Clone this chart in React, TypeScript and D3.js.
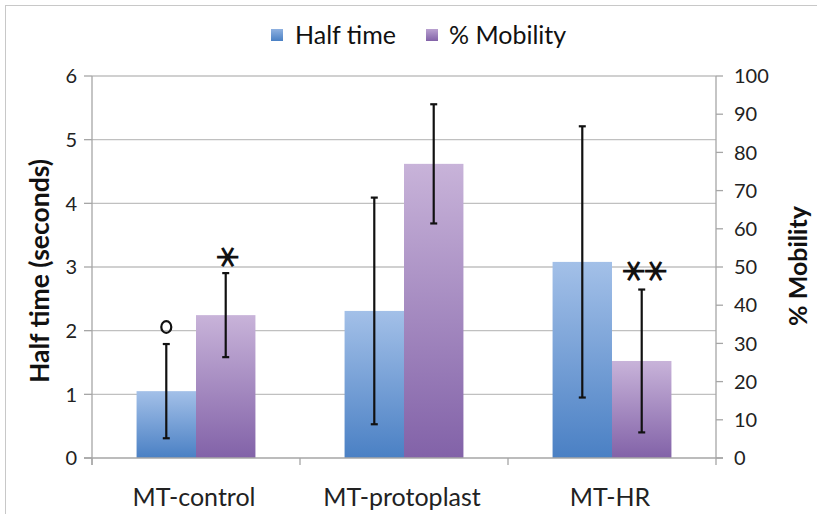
import React from "react";
import * as d3 from "d3";

const categories = ["MT-control", "MT-protoplast", "MT-HR"];
const halfTime = [1.05, 2.31, 3.08];
const halfTimeErr = [0.74, 1.78, 2.13];
const mobility = [37.4, 77.0, 25.4];
const mobilityErr = [11.0, 15.6, 18.7];
const leftTicks = [0, 1, 2, 3, 4, 5, 6];
const rightTicks = [0, 10, 20, 30, 40, 50, 60, 70, 80, 90, 100];
const seriesNames = ["Half time", "% Mobility"];

const W = 817;
const H = 514;
const plot = { left: 92, right: 716, top: 76, bottom: 458 };
const FONT = "Lato, 'Open Sans', sans-serif";

export default function App() {
  const x = d3.scaleBand<string>().domain(categories).range([plot.left, plot.right]).padding(0);
  const yL = d3.scaleLinear().domain([0, 6]).range([plot.bottom, plot.top]);
  const yR = d3.scaleLinear().domain([0, 100]).range([plot.bottom, plot.top]);
  const bw = x.bandwidth() / 3.5;
  const off = (x.bandwidth() - 2 * bw) / 2;
  const cap = 3.5;

  const errBar = (cx: number, y1: number, y2: number, key: string) => (
    <g key={key} stroke="#111" strokeWidth={2.2}>
      <line x1={cx} x2={cx} y1={y1} y2={y2} />
      <line x1={cx - cap} x2={cx + cap} y1={y1} y2={y1} />
      <line x1={cx - cap} x2={cx + cap} y1={y2} y2={y2} />
    </g>
  );

  const star = (cx: number, cy: number, key: string) => (
    <text key={key} x={cx} y={cy} dy="0.3em" textAnchor="middle" fontFamily="'DejaVu Sans'" fontSize={34} fill="#111"
      transform={`rotate(90 ${cx} ${cy})`}>∗</text>
  );

  return (
    <svg width={W} height={H} style={{ position: "absolute", left: 0, top: 0, background: "#fff" }}>
      <defs>
        <linearGradient id="gBlue" x1="0" y1="0" x2="0" y2="1">
          <stop offset="0" stopColor="#a3c0e8" />
          <stop offset="1" stopColor="#4a80c4" />
        </linearGradient>
        <linearGradient id="gPurple" x1="0" y1="0" x2="0" y2="1">
          <stop offset="0" stopColor="#c8b3d9" />
          <stop offset="1" stopColor="#8262a8" />
        </linearGradient>
        <linearGradient id="lBlue" x1="0" y1="0" x2="0" y2="1">
          <stop offset="0" stopColor="#8fb1e0" />
          <stop offset="1" stopColor="#4a80c4" />
        </linearGradient>
        <linearGradient id="lPurple" x1="0" y1="0" x2="0" y2="1">
          <stop offset="0" stopColor="#b9a1d0" />
          <stop offset="1" stopColor="#8262a8" />
        </linearGradient>
      </defs>
      <rect x={5.5} y={5.5} width={W + 20} height={H + 20} fill="none" stroke="#c8c8c8" strokeWidth={1} />

      {leftTicks.slice(1).map((t) => (
        <line key={"g" + t} x1={plot.left} x2={plot.right} y1={yL(t)} y2={yL(t)} stroke="#c0c0c0" strokeWidth={1.3} />
      ))}

      {categories.map((c, i) => {
        const x0 = (x(c) as number) + off;
        return (
          <g key={c}>
            <rect x={x0} y={yL(halfTime[i])} width={bw} height={plot.bottom - yL(halfTime[i])} fill="url(#gBlue)" />
            <rect x={x0 + bw} y={yR(mobility[i])} width={bw} height={plot.bottom - yR(mobility[i])} fill="url(#gPurple)" />
          </g>
        );
      })}

      <line x1={plot.left} x2={plot.left} y1={plot.top} y2={plot.bottom + 7} stroke="#a6a6a6" strokeWidth={1.3} />
      <line x1={plot.right} x2={plot.right} y1={plot.top} y2={plot.bottom + 7} stroke="#a6a6a6" strokeWidth={1.3} />
      <line x1={plot.left - 8} x2={plot.right + 7} y1={plot.bottom} y2={plot.bottom} stroke="#a6a6a6" strokeWidth={1.3} />
      {leftTicks.map((t) => (
        <g key={"lt" + t}>
          <line x1={plot.left - 8} x2={plot.left} y1={yL(t)} y2={yL(t)} stroke="#a6a6a6" strokeWidth={1.3} />
          <text x={77} y={yL(t)} dy="0.36em" textAnchor="end" fontFamily={FONT} fontSize={20} fill="#222">{t}</text>
        </g>
      ))}
      {rightTicks.map((t) => (
        <g key={"rt" + t}>
          <line x1={plot.right} x2={plot.right + 7} y1={yR(t)} y2={yR(t)} stroke="#a6a6a6" strokeWidth={1.3} />
          <text x={734} y={yR(t)} dy="0.36em" textAnchor="start" fontFamily={FONT} fontSize={20} fill="#222">{t}</text>
        </g>
      ))}
      {categories.map((c) => (
        <line key={"ct" + c} x1={x(c) as number} x2={x(c) as number} y1={plot.bottom} y2={plot.bottom + 7} stroke="#a6a6a6" strokeWidth={1.3} />
      ))}
      {categories.map((c) => (
        <text key={"cl" + c} x={(x(c) as number) + x.bandwidth() / 2 - 2} y={506} textAnchor="middle" fontFamily={FONT} fontSize={25} fill="#222">{c}</text>
      ))}

      {categories.map((c, i) => {
        const x0 = (x(c) as number) + off;
        return (
          <g key={"e" + c}>
            {errBar(x0 + bw / 2, yL(halfTime[i] + halfTimeErr[i]), yL(halfTime[i] - halfTimeErr[i]), "eb" + i)}
            {errBar(x0 + bw * 1.5, yR(mobility[i] + mobilityErr[i]), yR(mobility[i] - mobilityErr[i]), "ep" + i)}
          </g>
        );
      })}

      {(() => {
        const x0 = (x(categories[0]) as number) + off;
        const x2 = (x(categories[2]) as number) + off;
        return (
          <g>
            <ellipse cx={x0 + bw / 2} cy={327} rx={5} ry={5.8} fill="none" stroke="#111" strokeWidth={2.2} />
            {star(x0 + bw * 1.5 + 1, 257, "s1")}
            {star(x2 + bw * 1.5 - 9, 271, "s2")}
            {star(x2 + bw * 1.5 + 13, 271, "s3")}
          </g>
        );
      })()}

      <text transform="translate(49,271) rotate(-90)" textAnchor="middle" fontFamily={FONT} fontWeight="bold" fontSize={26.5} fill="#111">Half time (seconds)</text>
      <text transform="translate(807,266) rotate(-90)" textAnchor="middle" fontFamily={FONT} fontWeight="bold" fontSize={25} fill="#111">% Mobility</text>

      <rect x={271} y={29} width={12} height={12} fill="url(#lBlue)" />
      <text x={295} y={44} fontFamily={FONT} fontSize={25} fill="#111">{seriesNames[0]}</text>
      <rect x={426} y={29} width={12} height={12} fill="url(#lPurple)" />
      <text x={449} y={44} fontFamily={FONT} fontSize={25} fill="#111">{seriesNames[1]}</text>
    </svg>
  );
}
